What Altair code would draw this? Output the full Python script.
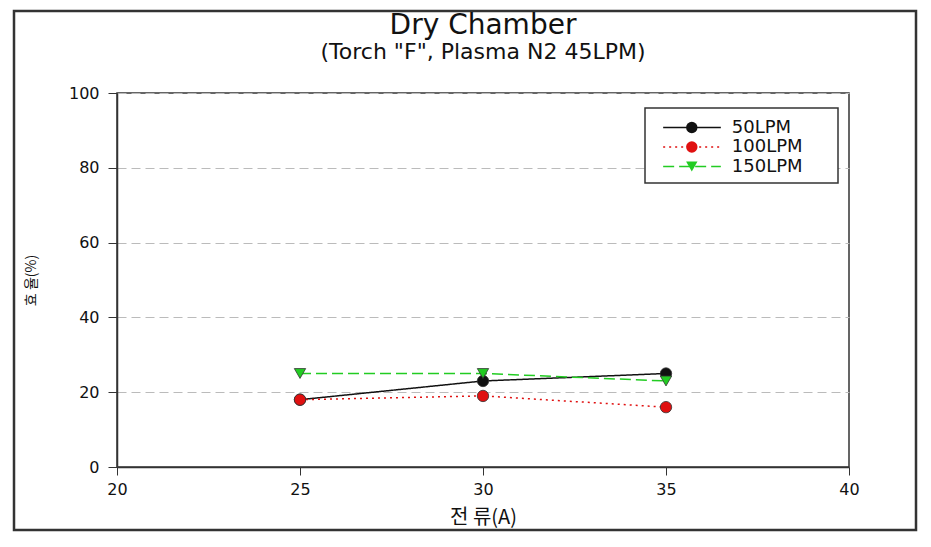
import altair as alt
import pandas as pd

currents = [25, 30, 35]
series_names = ["50LPM", "100LPM", "150LPM"]
vals_50 = [18, 23, 25]
vals_100 = [18, 19, 16]
vals_150 = [25, 25, 23]

colors = ["#111111", "#e01010", "#22cc22"]
shapes = ["circle", "circle", "triangle-down"]
dashes = [[1, 0], [2, 4], [11, 5]]
legend_line_path = "M-5.5,0H5.5"

rows = []
for name, vals in zip(series_names, [vals_50, vals_100, vals_150]):
    for c, v in zip(currents, vals):
        rows.append({"current": c, "value": v, "series": name, "series_pt": name})
df = pd.DataFrame(rows)

font = "DejaVu Sans"
kfont = "Noto Sans CJK KR"

x_enc = alt.X("current:Q", title="전 류(A)",
              scale=alt.Scale(domain=[20, 40], nice=False),
              axis=alt.Axis(values=[20, 25, 30, 35, 40], grid=False, tickSize=8,
                            labelFontSize=16, labelPadding=6, labelFlush=False,
                            titleFontSize=20, titleFont=kfont, titlePadding=10,
                            titleFontWeight="normal"))
y_enc = alt.Y("value:Q", title="효 율(%)",
              scale=alt.Scale(domain=[0, 100], nice=False),
              axis=alt.Axis(values=[0, 20, 40, 60, 80, 100], grid=True,
                            gridColor="#bbbbbb", gridDash=[9, 5], gridWidth=1,
                            tickSize=9, labelFontSize=16, labelPadding=9, labelFlush=False,
                            titleFontSize=14, titleFont=kfont, titleFontWeight="normal",
                            titlePadding=30))

line_legend = alt.Legend(title=None, orient="none", legendX=555.5, legendY=15,
                         padding=10.5, labelFontSize=18, labelExpr="''",
                         symbolSize=110, symbolType=legend_line_path,
                         rowPadding=1.5, symbolStrokeWidth=1.5, labelOffset=2)
pt_legend = alt.Legend(title=None, orient="none", legendX=555.3, legendY=15,
                       padding=10.5, labelFontSize=18, symbolSize=130, rowPadding=1.5,
                       labelOffset=31, symbolStrokeWidth=0.8,
                       symbolStrokeColor="#333333", symbolOpacity=1)

box = alt.Chart(pd.DataFrame({"a": [0]})).mark_rect(
    fill="white", stroke="#333333", strokeWidth=1.5
).encode(x=alt.value(528), x2=alt.value(721), y=alt.value(15), y2=alt.value(90))

lines = alt.Chart(df).mark_line(strokeWidth=1.5).encode(
    x=x_enc, y=y_enc,
    color=alt.Color("series:N", scale=alt.Scale(domain=series_names, range=colors),
                    legend=line_legend, sort=series_names),
    strokeDash=alt.StrokeDash("series:N", scale=alt.Scale(domain=series_names, range=dashes),
                              legend=line_legend, sort=series_names),
)

points = alt.Chart(df).mark_point(filled=True, size=130, opacity=1,
                                  stroke="#333333", strokeWidth=0.8).encode(
    x="current:Q", y="value:Q",
    fill=alt.Fill("series_pt:N", scale=alt.Scale(domain=series_names, range=colors),
                  legend=pt_legend, sort=series_names),
    shape=alt.Shape("series_pt:N", scale=alt.Scale(domain=series_names, range=shapes),
                    legend=pt_legend, sort=series_names),
)

frame = alt.Chart(pd.DataFrame({"a": [0]})).mark_rect(
    fill=None, stroke="#333333", strokeWidth=2.5
).encode(x=alt.value(-103), x2=alt.value(799), y=alt.value(-82), y2=alt.value(437))

chart = alt.layer(frame, box, lines, points).resolve_scale(
    color="independent", fill="independent", shape="independent", strokeDash="independent"
).properties(
    width=732, height=374,
    title=alt.TitleParams(text="Dry Chamber", subtitle='(Torch "F", Plasma N2 45LPM)',
                          fontSize=28, subtitleFontSize=22, fontWeight="normal",
                          anchor="middle", offset=-53, font=font, subtitleFont=font,
                          color="#111111", subtitleColor="#111111", subtitlePadding=2),
    autosize=alt.AutoSizeParams(type="none"),
    padding={"left": 109, "top": 85, "right": 74, "bottom": 72},
).configure_view(stroke="#333333", strokeWidth=1.5).configure_axis(
    domainColor="#333333", tickColor="#333333", labelColor="#111111",
    titleColor="#111111", labelFont=font, domainWidth=1.5
).configure_legend(labelFont=font, labelColor="#111111")

chart.save("out.html", embed_options={"renderer": "svg", "actions": False})
